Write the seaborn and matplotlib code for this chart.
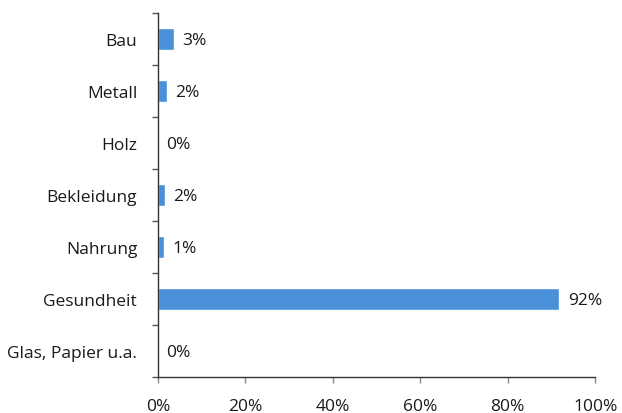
import matplotlib
matplotlib.use("Agg")
import matplotlib.pyplot as plt
import seaborn as sns
import pandas as pd
import numpy as np

categories = ["Bau", "Metall", "Holz", "Bekleidung", "Nahrung", "Gesundheit", "Glas, Papier u.a."]
values = [3.7, 2.0, 0.0, 1.6, 1.3, 91.8, 0.0]
labels = ["3%", "2%", "0%", "2%", "1%", "92%", "0%"]
xticks = [0, 20, 40, 60, 80, 100]
xticklabels = ["0%", "20%", "40%", "60%", "80%", "100%"]

sns.set_style("white")
plt.rcParams["font.family"] = ["Open Sans", "DejaVu Sans"]

df = pd.DataFrame({"cat": categories, "val": values})

fig = plt.figure(figsize=(6.22, 4.14), dpi=100)
ax = fig.add_axes([0.254, 0.087, 0.703, 0.880])
sns.barplot(data=df, y="cat", x="val", orient="h", color="#4A90D9", width=0.42,
            saturation=1, ax=ax)

ax.set_xlim(0, 100)
ax.set_ylim(len(categories) - 0.5, -0.5)
ax.set_xlabel("")
ax.set_ylabel("")

for i, (v, lab) in enumerate(zip(values, labels)):
    ax.annotate(lab, xy=(v, i), xytext=(6, -1), textcoords="offset points",
                va="center", ha="left", fontsize=12.5, color="#1a1a1a")

ax.set_xticks(xticks)
ax.set_xticklabels(xticklabels, fontsize=12.5, color="#1a1a1a")
ax.set_yticks(range(len(categories)))
ax.set_yticklabels(categories, fontsize=12.5, color="#1a1a1a")
ax.set_yticks(np.arange(-0.5, len(categories)), minor=True)
ax.tick_params(axis="y", which="major", left=True, length=0, pad=15)
ax.tick_params(axis="y", which="minor", left=True, length=4.5, width=1, color="#555555", direction="out")
ax.tick_params(axis="x", which="major", bottom=True, length=4, width=1, color="#888888", direction="out", pad=11)

for s in ["top", "right"]:
    ax.spines[s].set_visible(False)
for s in ["left", "bottom"]:
    ax.spines[s].set_color("#333333")
    ax.spines[s].set_linewidth(1)

fig.savefig("out.png", dpi=100)
